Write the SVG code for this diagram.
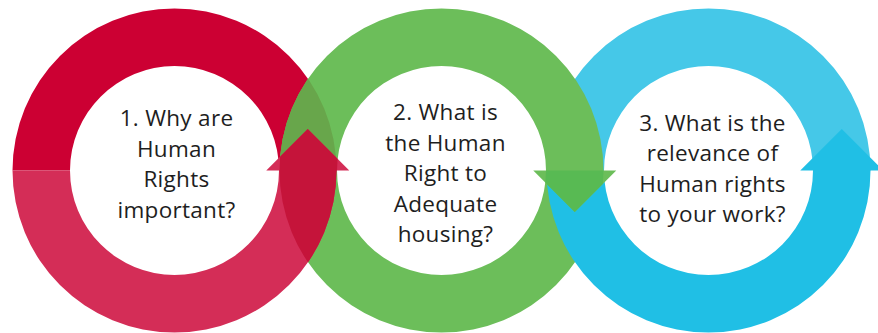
<svg xmlns="http://www.w3.org/2000/svg" width="878" height="333" viewBox="0 0 878 333">
<style>
  .lbl { font-family: "Open Sans", Lato, "Liberation Sans", sans-serif; font-size: 22.5px; letter-spacing: 0.3px; fill: #1e1e1e; text-anchor: middle; }
</style>
<defs>
  <clipPath id="greenAnnulus">
    <path clip-rule="evenodd" d="M279.5,170.5 A162,162 0 1 0 603.5,170.5 A162,162 0 1 0 279.5,170.5 Z M337,170.5 A104.5,104.5 0 1 0 546,170.5 A104.5,104.5 0 1 0 337,170.5 Z"/>
  </clipPath>
</defs>
<rect width="878" height="333" fill="#ffffff"/>
<g id="rings">
  <path id="red-top" fill="#CC0033" d="M12.5,170.5 A162,162 0 0 1 336.5,170.5 L279,170.5 A104.5,104.5 0 0 0 70,170.5 Z"/>
  <path id="blue-top" fill="#45C8E8" d="M546.5,170.5 A162,162 0 0 1 870.5,170.5 L813,170.5 A104.5,104.5 0 0 0 604,170.5 Z"/>
  <path id="green-bottom" fill="#6CBE5A" d="M279.5,170.5 A162,162 0 0 0 603.5,170.5 L546,170.5 A104.5,104.5 0 0 1 337,170.5 Z"/>
  <path id="blue-arrow" fill="#20BFE5" d="M546.5,170.5 A162,162 0 0 0 870.5,170.5 L883.25,170.5 L841.75,129 L800.25,170.5 L813,170.5 A104.5,104.5 0 0 1 604,170.5 Z"/>
  <path id="green-arrow" fill="#6CBE5A" d="M279.5,170.5 A162,162 0 0 1 603.5,170.5 L616.25,170.5 L574.75,212 L533.25,170.5 L546,170.5 A104.5,104.5 0 0 0 337,170.5 Z"/>
  <path id="red-green-upper-lens" fill="#68A64B" clip-path="url(#greenAnnulus)" d="M12.5,170.5 A162,162 0 0 1 336.5,170.5 L279,170.5 A104.5,104.5 0 0 0 70,170.5 Z"/>
  <path id="red-arrow" fill="#D42D57" d="M12.5,170.5 A162,162 0 0 0 336.5,170.5 L349.25,170.5 L307.75,129 L266.25,170.5 L279,170.5 A104.5,104.5 0 0 1 70,170.5 Z"/>
  <path id="red-arrow-over-green" fill="#C5143A" clip-path="url(#greenAnnulus)" d="M12.5,170.5 A162,162 0 0 0 336.5,170.5 L349.25,170.5 L307.75,129 L266.25,170.5 L279,170.5 A104.5,104.5 0 0 1 70,170.5 Z"/>
  <path id="green-head-over-band" fill="#58BA53" clip-path="url(#greenAnnulus)" d="M616.25,170.5 L574.75,212 L533.25,170.5 Z"/>
</g>
<g id="node-1">
  <text class="lbl" x="176.5" y="126">1. Why are</text>
  <text class="lbl" x="176.5" y="156.5">Human</text>
  <text class="lbl" x="176.5" y="187">Rights</text>
  <text class="lbl" x="176.5" y="217.5">important?</text>
</g>
<g id="node-2">
  <text class="lbl" x="445.5" y="120">2. What is</text>
  <text class="lbl" x="445.5" y="150.5">the Human</text>
  <text class="lbl" x="445.5" y="181">Right to</text>
  <text class="lbl" x="445.5" y="211.5">Adequate</text>
  <text class="lbl" x="445.5" y="242">housing?</text>
</g>
<g id="node-3">
  <text class="lbl" x="712.5" y="130.5">3. What is the</text>
  <text class="lbl" x="712.5" y="161">relevance of</text>
  <text class="lbl" x="712.5" y="191.5">Human rights</text>
  <text class="lbl" x="712.5" y="222">to your work?</text>
</g>
</svg>
